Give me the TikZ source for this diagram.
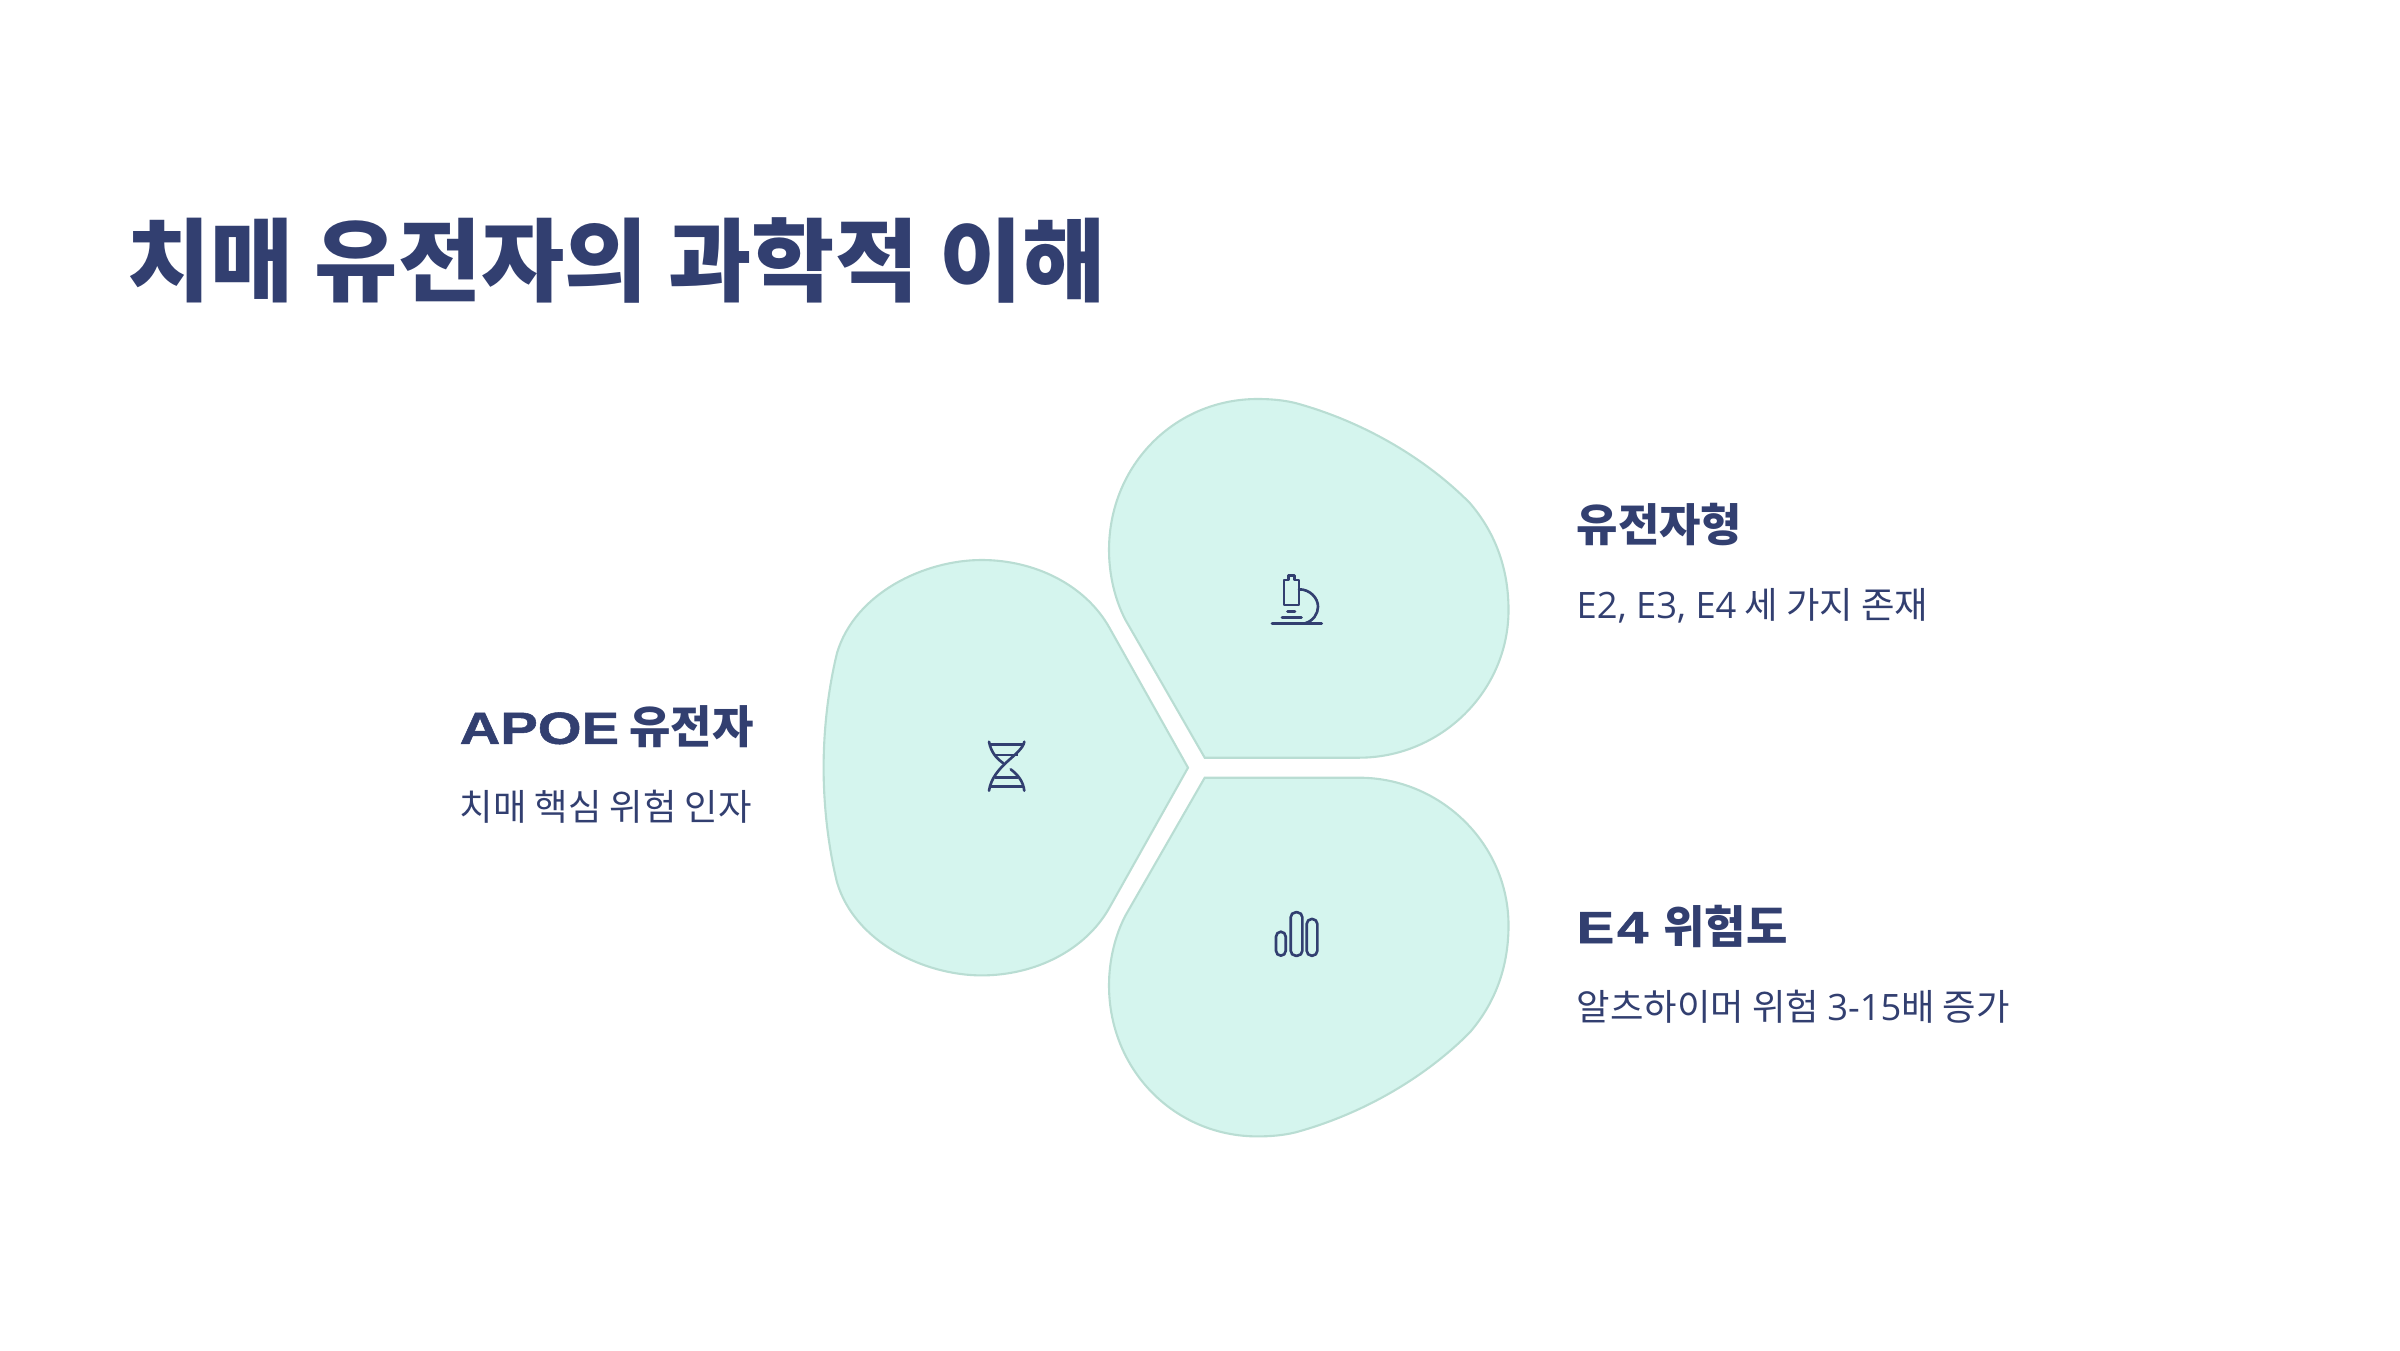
\documentclass[tikz,border=0pt]{standalone}
\usepackage{fontspec}
\newfontfamily\cjk{Noto Sans CJK KR}
\newfontfamily\latinfont{Open Sans}
\newfontfamily\widefont[FakeStretch=1.25, FakeBold=1.2]{Liberation Sans}

\begin{document}
\begin{tikzpicture}[
    every node/.style={font=\cjk, inner sep=0pt, anchor=west},
]

% ---------------------------------------------------------------- colours
\definecolor{c1}{HTML}{323F70}   % titles, small text, icons
\definecolor{c2}{HTML}{D5F5EE}   % petal fill
\definecolor{c3}{HTML}{B9DDD3}   % petal edge

\tikzset{
    petal/.style={fill=c2, draw=c3, line width=0.6pt},
    icon/.style={draw=c1, line width=0.75pt, line cap=round, line join=round},
    heading/.style={font=\cjk\bfseries\fontsize{12.8}{15}\selectfont, text=c1},
    detail/.style={font=\cjk\fontsize{10.35}{13}\selectfont, text=c1},
}

\useasboundingbox (0, 0) rectangle (24, 13.5);

% ---------------------------------------------------------------- title
\node[font=\cjk\bfseries\fontsize{25.75}{30}\selectfont, text=c1] (title)
    at (1.27, 10.9) {치매 유전자의 과학적 이해};

% ---------------------------------------------------------------- petals
% the right hand petals mirror each other about y = 5.823
\foreach \s in {1, -1} {
    \begin{scope}[shift={(0, 5.823)}, yscale=\s]
        \draw[petal] (12.047, 0.10) -- (13.59, 0.10)
            .. controls (14.40, 0.10) and (15.085, 0.757) .. (15.085, 1.577)
            .. controls (15.085, 2.027) and (14.93, 2.377) .. (14.698, 2.647)
            .. controls (14.27, 3.08) and (13.65, 3.457) .. (12.953, 3.647)
            .. controls (12.83, 3.677) and (12.70, 3.687) .. (12.575, 3.687)
            .. controls (11.75, 3.687) and (11.09, 3.027) .. (11.09, 2.177)
            .. controls (11.09, 1.927) and (11.15, 1.677) .. (11.255, 1.477)
            -- cycle;
    \end{scope}
}
\draw[petal, shift={(0, 5.823)}] (11.88, 0) -- (11.09, 1.407)
    .. controls (10.85, 1.827) and (10.35, 2.077) .. (9.816, 2.077)
    .. controls (9.25, 2.077) and (8.55, 1.75) .. (8.37, 1.147)
    .. controls (8.28, 0.777) and (8.236, 0.377) .. (8.236, 0)
    .. controls (8.236, -0.377) and (8.28, -0.777) .. (8.37, -1.147)
    .. controls (8.55, -1.75) and (9.25, -2.077) .. (9.816, -2.077)
    .. controls (10.35, -2.077) and (10.85, -1.827) .. (11.09, -1.407)
    -- cycle;

% ---------------------------------------------------------------- microscope
\draw[icon] (12.72, 7.267) -- (13.217, 7.267);
\draw[icon] (12.82, 7.327) -- (13.015, 7.327);
\draw[icon] (12.875, 7.383) -- (12.95, 7.383);
\draw[icon] (12.84, 7.45) -- (12.84, 7.70) -- (12.883, 7.70) -- (12.883, 7.743)
    -- (12.943, 7.743) -- (12.943, 7.70) -- (12.99, 7.70) -- (12.99, 7.45) -- cycle;
\draw[icon] (12.99, 7.607)
    .. controls (13.10, 7.607) and (13.18, 7.52) .. (13.18, 7.433)
    .. controls (13.18, 7.36) and (13.13, 7.29) .. (13.05, 7.267);

% ---------------------------------------------------------------- helix
\draw[icon] (10.243, 6.083) .. controls (10.22, 5.95) and (9.93, 5.85) .. (9.89, 5.593);
\draw[icon] (9.89, 6.083) .. controls (9.91, 5.98) and (9.96, 5.92) .. (10.03, 5.87);
\draw[icon] (10.107, 5.807) .. controls (10.18, 5.75) and (10.23, 5.69) .. (10.243, 5.593);
\foreach \ya/\xa/\xb in {6.057/9.90/10.233, 5.95/9.95/10.18, 5.727/9.95/10.18, 5.633/9.90/10.233} {
    \draw[icon, line cap=butt] (\xa, \ya) -- (\xb, \ya);
}

% ---------------------------------------------------------------- bars
\foreach \xa/\xb/\yb in {12.76/12.857/4.183, 12.907/13.023/4.377, 13.067/13.173/4.31} {
    \draw[icon, rounded corners=1.4pt] (\xa, 3.943) rectangle (\xb, \yb);
}

% ---------------------------------------------------------------- labels
\node[heading] (apoe) at (4.59, 6.23) {{\widefont\bfseries APOE} 유전자};
\node[detail] (apoedetail) at (4.59, 5.43) {치매 핵심 위험 인자};

\node[heading] (genotype) at (15.76, 8.25) {유전자형};
\node[detail] (genotypedetail) at (15.76, 7.44) {{\latinfont E2, E3, E4} 세 가지 존재};

\node[heading] (risk) at (15.76, 4.24) {{\widefont\bfseries E\kern0.8pt 4}\kern1.4pt{} 위험도};
\node[detail] (riskdetail) at (15.76, 3.43) {알츠하이머 위험 {\latinfont 3-15}배 증가};

\end{tikzpicture}
\end{document}
